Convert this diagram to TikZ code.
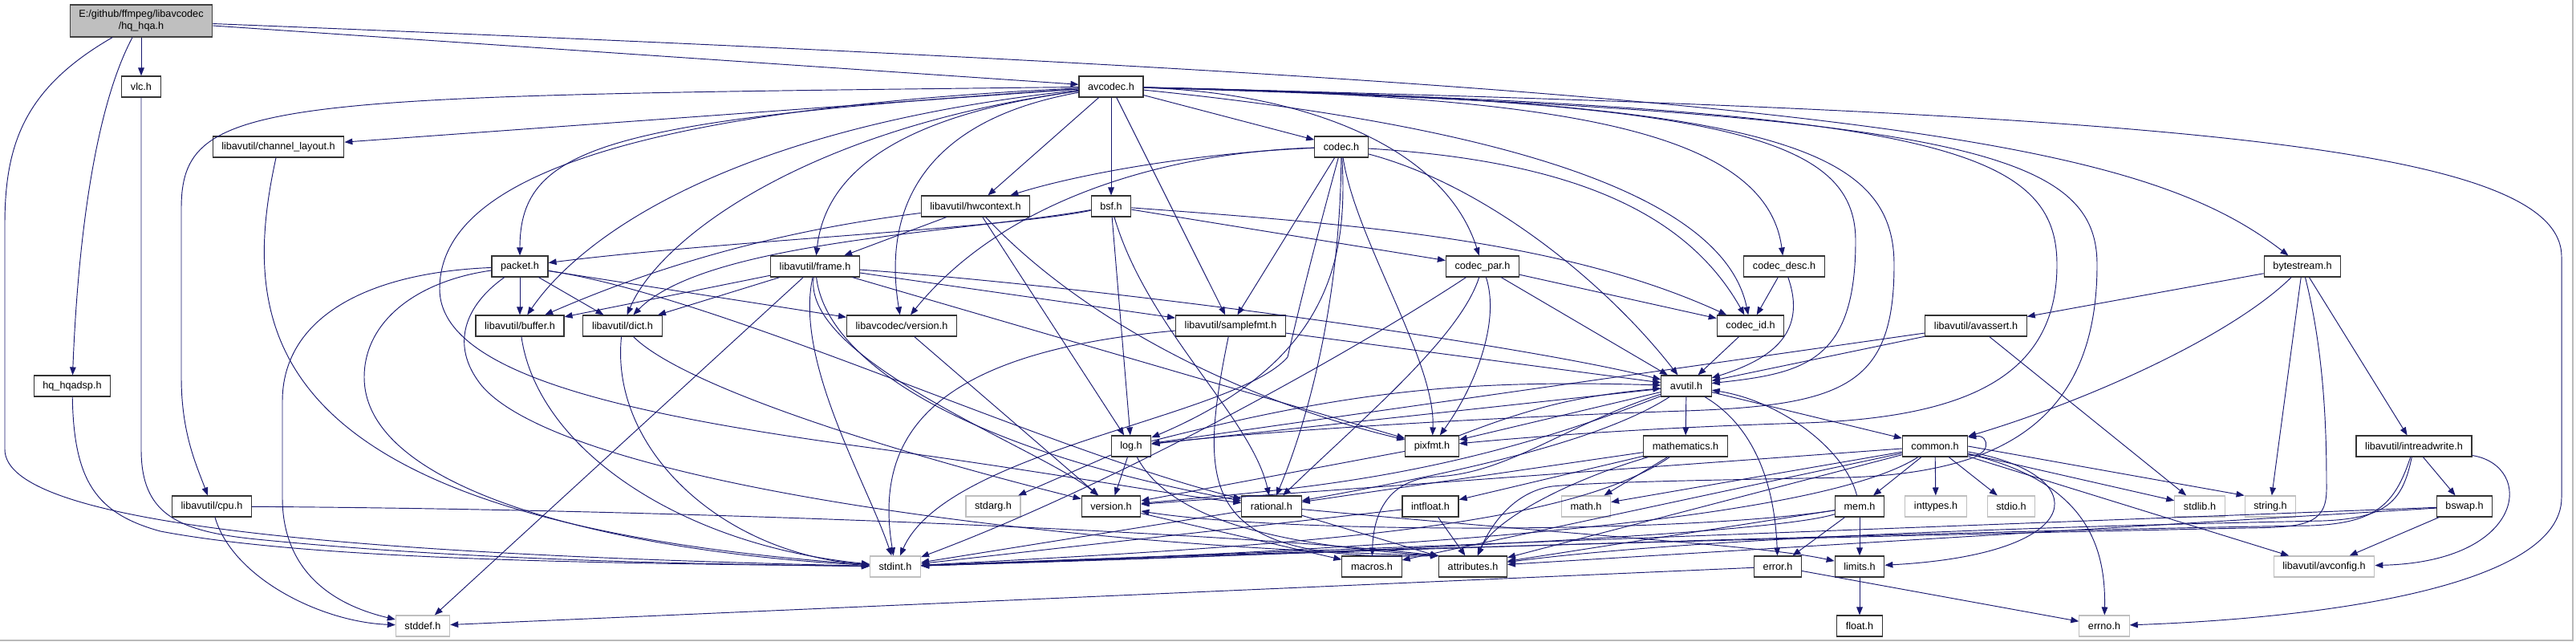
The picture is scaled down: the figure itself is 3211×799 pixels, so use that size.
\documentclass[tikz,border=0pt]{standalone}
\usepackage{fontspec}
\setmainfont{Liberation Sans}
\usetikzlibrary{arrows.meta}
\definecolor{linkblue}{RGB}{25, 25, 112}
\definecolor{boxgray}{RGB}{191, 191, 191}

\begin{document}
\begin{tikzpicture}[
        x=0.03cm, y=-0.03cm,
        header/.style={
            rectangle,
            draw=black!80,
            fill=white,
            line width=1pt,
            minimum height=0.78cm,
            inner xsep=9.5pt,
            inner ysep=0pt,
            font=\fontsize{10.8}{13}\selectfont
        },
        syshdr/.style={header, draw=boxgray},
        mainhdr/.style={header, fill=boxgray, draw=black!75, minimum height=1.2cm, align=center},
        incl/.style={
            draw=linkblue,
            line width=0.8pt,
            -{Triangle[length=8.5pt, width=6.5pt]}
        }
    ]
    \useasboundingbox (0,0) rectangle (3211,799);
    \fill[white] (0,0) rectangle (3211,799);
    \draw[gray!55, line width=1.4pt] (0,798) -- (3207,798) -- (3207,0);

    \node[mainhdr] (root) at (176,26) {E:/github/ffmpeg/libavcodec\\/hq\_hqa.h};
    \foreach \fname/\fx/\fy/\ftext in {
        vlc/176/108/vlc.h,
        hqadsp/90/481/hq\_hqadsp.h,
        chlayout/347/183/{libavutil/channel\_layout.h},
        cpu/264/631/{libavutil/cpu.h},
        avcodec/1385/108/avcodec.h,
        hwctx/1216/257/{libavutil/hwcontext.h},
        bsf/1385/257/bsf.h,
        codec/1672/183/codec.h,
        packet/648/332/packet.h,
        frame/1016/332/{libavutil/frame.h},
        codecpar/1848/332/codec\_par.h,
        codecdesc/2224/332/codec\_desc.h,
        bytestream/2870/332/bytestream.h,
        buffer/648/406/{libavutil/buffer.h},
        dict/776/406/{libavutil/dict.h},
        lavcver/1124/406/{libavcodec/version.h},
        samplefmt/1534/406/{libavutil/samplefmt.h},
        codecid/2182/406/codec\_id.h,
        avassert/2463/406/{libavutil/avassert.h},
        avutil/2102/481/avutil.h,
        logh/1410/556/log.h,
        pixfmt/1785/556/pixfmt.h,
        mathh/2101/556/mathematics.h,
        common/2412/556/common.h,
        intrw/3009/556/{libavutil/intreadwrite.h},
        version/1385/631/version.h,
        rational/1585/631/rational.h,
        intfloat/1783/631/intfloat.h,
        mem/2318/631/mem.h,
        bswap/3072/631/bswap.h,
        macros/1710/706/macros.h,
        attributes/1836/706/attributes.h,
        errorh/2216/706/error.h,
        limits/2318/706/limits.h,
        floath/2318/780/float.h%
    } {
        \node[header] (\fname) at (\fx,\fy) {\ftext};
    }
    \foreach \fname/\fx/\fy/\ftext in {
        stdarg/1238/631/stdarg.h,
        mathsys/1977/631/math.h,
        inttypes/2413/631/inttypes.h,
        stdio/2507/631/stdio.h,
        stdlib/2742/631/stdlib.h,
        string/2830/631/string.h,
        stdint/1116/706/stdint.h,
        avconfig/2897/706/{libavutil/avconfig.h},
        stddef/527/780/stddef.h,
        errno/2623/780/errno.h%
    } {
        \node[syshdr] (\fname) at (\fx,\fy) {\ftext};
    }

    \foreach \src/\dst in {
        root/vlc, root/avcodec,
        avcodec/chlayout, avcodec/hwctx, avcodec/bsf, avcodec/samplefmt, avcodec/codec,
        bsf/logh, bsf/codecpar,
        codec/samplefmt,
        codecpar/codecid, codecpar/avutil,
        codecdesc/codecid, codecid/avutil,
        packet/buffer, packet/dict, packet/lavcver,
        hwctx/frame, hwctx/logh,
        frame/buffer, frame/dict, frame/stddef, frame/samplefmt, frame/pixfmt,
        lavcver/version,
        samplefmt/avutil,
        avutil/mathh, avutil/common, avutil/logh, avutil/pixfmt,
        logh/stdarg, logh/version,
        pixfmt/version,
        mathh/mathsys, mathh/intfloat, mathh/rational,
        version/macros,
        rational/stdint, rational/attributes,
        intfloat/attributes, intfloat/stdint,
        common/inttypes, common/stdio, common/stdlib, common/avconfig, common/mathsys,
        common/version, common/attributes, common/macros, common/mem,
        mem/limits, mem/errorh, mem/attributes,
        errorh/stddef, errorh/errno,
        limits/floath,
        avassert/stdlib, avassert/avutil, avassert/logh,
        bytestream/avassert, bytestream/string, bytestream/intrw,
        intrw/bswap,
        bswap/avconfig, bswap/stdint, bswap/attributes%
    } {
        \draw[incl] (\src) -- (\dst);
    }

    \draw[incl] (root) .. controls (110,150) and (95,350) .. (hqadsp);
    \draw[incl] (root) .. controls (30,110) and (6,180) .. (6,280) -- (6,560) .. controls (6,650) and (400,690) .. (stdint);
    \draw[incl] (root) .. controls (2300,110) and (2660,170) .. (bytestream);
    \draw[incl] (vlc) -- (176,560) .. controls (176,640) and (220,662) .. (320,672) .. controls (600,700) and (900,703) .. (stdint);
    \draw[incl] (hqadsp) .. controls (92,600) and (120,640) .. (200,662) .. controls (400,700) and (800,702) .. (stdint);
    \draw[incl] (chlayout) .. controls (295,420) and (330,650) .. (stdint);
    \draw[incl] (cpu) .. controls (290,720) and (400,775) .. (stddef);
    \draw[incl] (cpu) .. controls (900,635) and (1550,665) .. (attributes.north west);

    \draw[incl] (avcodec) .. controls (330,120) and (226,120) .. (226,260) -- (226,470) .. controls (226,540) and (245,580) .. (cpu);
    \draw[incl] (avcodec) .. controls (760,150) and (648,180) .. (packet);
    \draw[incl] (avcodec) .. controls (900,160) and (720,300) .. (buffer);
    \draw[incl] (avcodec) .. controls (1000,160) and (820,300) .. (dict);
    \draw[incl] (avcodec) .. controls (1150,140) and (1030,200) .. (frame);
    \draw[incl] (avcodec) .. controls (1150,150) and (1100,260) .. (lavcver);
    \draw[incl] (avcodec) .. controls (700,140) and (548,250) .. (548,360) .. controls (548,470) and (800,520) .. (1100,560) .. controls (1350,595) and (1450,615) .. (rational);
    \draw[incl] (avcodec) .. controls (1620,115) and (1800,180) .. (codecpar);
    \draw[incl] (avcodec) .. controls (1900,120) and (2200,150) .. (codecdesc);
    \draw[incl] (avcodec) .. controls (1900,160) and (2150,250) .. (codecid);
    \draw[incl] (avcodec) .. controls (2150,125) and (2313,170) .. (2313,300) .. controls (2313,450) and (2250,465) .. (avutil);
    \draw[incl] (avcodec) .. controls (2200,125) and (2361,180) .. (2361,330) .. controls (2361,480) and (2300,505) .. (2100,512) .. controls (1800,522) and (1550,540) .. (logh);
    \draw[incl] (avcodec) .. controls (2400,135) and (2564,180) .. (2564,330) .. controls (2564,470) and (2450,520) .. (2250,527) .. controls (2050,533) and (1900,545) .. (pixfmt);
    \draw[incl] (avcodec) .. controls (2450,140) and (2614,190) .. (2614,330) .. controls (2614,520) and (2500,590) .. (2300,595) .. controls (2150,598) and (2000,600) .. (1935,606) .. controls (1890,612) and (1860,650) .. (attributes);
    \draw[incl] (avcodec) .. controls (2700,140) and (3193,180) .. (3193,320) -- (3193,620) .. controls (3193,730) and (2900,770) .. (errno);

    \draw[incl] (bsf) .. controls (1250,285) and (900,300) .. (packet);
    \draw[incl] (bsf) .. controls (1200,290) and (880,300) .. (dict);
    \draw[incl] (bsf) .. controls (1430,410) and (1560,520) .. (rational);
    \draw[incl] (bsf) .. controls (1700,280) and (1950,300) .. (codecid);

    \draw[incl] (codec) .. controls (1500,190) and (1350,215) .. (hwctx);
    \draw[incl] (codec) .. controls (1450,190) and (1250,250) .. (lavcver);
    \draw[incl] (codec) .. controls (1640,300) and (1620,380) .. (1605,445) .. controls (1540,520) and (1180,560) .. (stdint);
    \draw[incl] (codec) .. controls (1680,320) and (1660,450) .. (logh);
    \draw[incl] (codec) .. controls (1690,300) and (1790,450) .. (pixfmt);
    \draw[incl] (codec) .. controls (1670,400) and (1620,550) .. (rational);
    \draw[incl] (codec) .. controls (1950,200) and (2100,260) .. (codecid);
    \draw[incl] (codec) .. controls (1850,230) and (2000,350) .. (avutil);

    \draw[incl] (codecpar) .. controls (1870,400) and (1840,480) .. (pixfmt);
    \draw[incl] (codecpar) .. controls (1820,420) and (1700,520) .. (rational);
    \draw[incl] (codecpar) .. controls (1700,430) and (1400,600) .. (stdint);
    \draw[incl] (codecdesc) .. controls (2255,420) and (2200,450) .. (avutil);

    \draw[incl] (packet) .. controls (450,340) and (352,400) .. (352,500) -- (352,620) .. controls (352,700) and (400,750) .. (stddef);
    \draw[incl] (packet) .. controls (520,350) and (454,400) .. (454,470) .. controls (454,620) and (800,690) .. (stdint);
    \draw[incl] (packet) .. controls (580,380) and (560,430) .. (600,480) .. controls (700,600) and (1300,680) .. (attributes.north west);
    \draw[incl] (packet) .. controls (900,370) and (1300,560) .. (rational);

    \draw[incl] (hwctx) .. controls (950,290) and (800,340) .. (buffer);
    \draw[incl] (hwctx) .. controls (1350,400) and (1550,500) .. (pixfmt);

    \draw[incl] (frame) .. controls (990,450) and (1080,600) .. (stdint);
    \draw[incl] (frame) .. controls (1400,360) and (1900,430) .. (avutil);
    \draw[incl] (frame) .. controls (1030,450) and (1200,560) .. (rational);
    \draw[incl] (frame) .. controls (1000,450) and (1300,560) .. (version);

    \draw[incl] (buffer) .. controls (670,560) and (850,680) .. (stdint);
    \draw[incl] (dict) .. controls (760,560) and (900,690) .. (stdint);
    \draw[incl] (dict) .. controls (850,480) and (1100,560) .. (version);

    \draw[incl] (samplefmt) .. controls (1150,440) and (1090,550) .. (stdint);
    \draw[incl] (samplefmt) .. controls (1490,620) and (1500,700) .. (attributes.north west);

    \draw[incl] (avutil) .. controls (2185,530) and (2212,600) .. (errorh);
    \draw[incl] (avutil) .. controls (1980,560) and (1750,600) .. (rational);
    \draw[incl] (avutil) .. controls (1800,600) and (1600,610) .. (version);
    \draw[incl] (avutil) .. controls (1950,530) and (1880,590) .. (1790,594) .. controls (1730,597) and (1712,640) .. (macros);

    \draw[incl] (logh) .. controls (1460,650) and (1600,680) .. (attributes.north west);
    \draw[incl] (logh) to[bend left=8] (avutil);
    \draw[incl] (pixfmt) to[bend left=8] (avutil);

    \draw[incl] (mathh) .. controls (1950,600) and (1860,650) .. (attributes);
    \draw[incl] (mathh) .. controls (1950,660) and (1600,680) .. (stdint);
    \draw[incl] (rational) .. controls (2000,670) and (2200,680) .. (limits);

    \draw[incl] (common.-15) .. controls +(28,4) and +(28,-4) .. (common.15);
    \draw[incl] (common.east) -- (string.north west);
    \draw[incl] (common) .. controls (2600,600) and (2625,680) .. (errno);
    \draw[incl] (common) .. controls (2610,590) and (2610,690) .. (limits);
    \draw[incl] (common) .. controls (2250,660) and (1600,690) .. (stdint);

    \draw[incl] (mem) .. controls (2300,560) and (2220,500) .. (avutil);
    \draw[incl] (mem) .. controls (2100,665) and (1600,665) .. (version);
    \draw[incl] (mem) .. controls (2200,668) and (1600,692) .. (stdint);

    \draw[incl] (bytestream) .. controls (2780,420) and (2600,500) .. (common);
    \draw[incl] (bytestream) .. controls (2900,450) and (2900,560) .. (2900,610) .. controls (2900,655) and (2870,657) .. (2800,658) .. controls (2300,668) and (1500,690) .. (stdint);

    \draw[incl] (intrw) .. controls (3160,580) and (3150,700) .. (avconfig);
    \draw[incl] (intrw) .. controls (2985,630) and (2960,652) .. (2880,655) .. controls (2400,662) and (1600,690) .. (stdint);
    \draw[incl] (intrw) .. controls (2995,625) and (2975,646) .. (2895,649) .. controls (2500,657) and (2100,672) .. (attributes);
\end{tikzpicture}
\end{document}
